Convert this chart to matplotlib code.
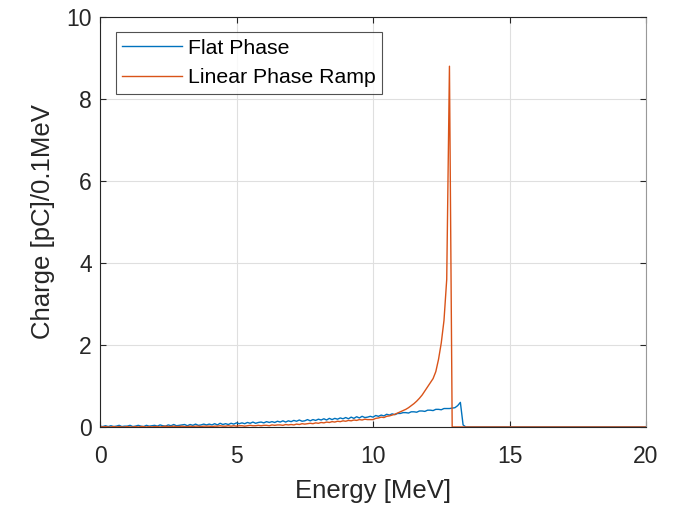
import numpy as np
import matplotlib
matplotlib.use("Agg")
import matplotlib.pyplot as plt

plt.rcParams['font.family'] = ['Liberation Sans', 'DejaVu Sans']

flat_phase = [
    0.02,0.01,0.03,0.01,0.03,0.01,0.02,0.04,0.01,0.02,
    0.02,0.04,0.01,0.02,0.04,0.02,0.01,0.04,0.02,0.03,
    0.04,0.02,0.05,0.03,0.02,0.05,0.03,0.06,0.03,0.04,
    0.05,0.06,0.03,0.06,0.04,0.07,0.04,0.05,0.07,0.05,
    0.07,0.05,0.08,0.05,0.09,0.06,0.08,0.06,0.09,0.07,
    0.10,0.08,0.10,0.08,0.11,0.09,0.12,0.09,0.11,0.12,
    0.10,0.13,0.11,0.13,0.11,0.14,0.12,0.15,0.12,0.15,
    0.13,0.16,0.14,0.17,0.14,0.15,0.18,0.15,0.18,0.16,
    0.19,0.17,0.20,0.17,0.21,0.18,0.21,0.19,0.22,0.20,
    0.23,0.20,0.24,0.21,0.25,0.22,0.26,0.23,0.24,0.26,
    0.24,0.28,0.26,0.29,0.27,0.31,0.29,0.32,0.30,0.33,
    0.33,0.35,0.35,0.34,0.37,0.37,0.36,0.39,0.39,0.38,
    0.41,0.41,0.40,0.43,0.43,0.42,0.45,0.45,0.45,0.46,
    0.47,0.52,0.60,0.05,0.00,
] + [0.0] * 66

linear_ramp = [
    0.01,0.00,0.01,0.00,0.00,0.01,0.00,0.01,0.00,0.00,
    0.01,0.00,0.00,0.01,0.00,0.01,0.01,0.00,0.01,0.00,
    0.01,0.01,0.00,0.01,0.02,0.01,0.01,0.02,0.01,0.01,
    0.02,0.01,0.01,0.02,0.01,0.02,0.02,0.01,0.02,0.02,
    0.02,0.01,0.02,0.02,0.03,0.02,0.02,0.03,0.02,0.03,
    0.02,0.03,0.03,0.02,0.03,0.04,0.03,0.03,0.04,0.03,
    0.04,0.04,0.03,0.05,0.04,0.05,0.05,0.04,0.06,0.05,
    0.06,0.05,0.07,0.06,0.08,0.07,0.08,0.09,0.08,0.10,
    0.09,0.11,0.10,0.12,0.11,0.13,0.12,0.14,0.13,0.15,
    0.14,0.16,0.15,0.17,0.16,0.18,0.17,0.19,0.18,0.18,
    0.18,0.21,0.22,0.24,0.23,0.26,0.27,0.29,0.31,0.34,
    0.37,0.40,0.43,0.47,0.52,0.57,0.63,0.70,0.78,0.88,
    0.98,1.08,1.18,1.35,1.65,2.05,2.60,3.60,8.80,
    0.00,
] + [0.0] * 71

energy = np.round(np.arange(len(flat_phase)) * 0.1, 1)

fig = plt.figure(figsize=(6.86, 5.05), dpi=100)
ax = fig.add_axes([0.1458, 0.1545, 0.7959, 0.8118])

ax.plot(energy, flat_phase, color='#0072BD', lw=1.0, label='Flat Phase')
ax.plot(energy, linear_ramp, color='#D95319', lw=1.0, label='Linear Phase Ramp')

ax.set_xlim(0, 20)
ax.set_ylim(0, 10)
ax.set_xticks([0, 5, 10, 15, 20])
ax.set_yticks([0, 2, 4, 6, 8, 10])
ax.grid(True, color='#DFDFDF', lw=0.8)
ax.set_axisbelow(True)
ax.tick_params(direction='in', length=4, width=0.8, colors='#262626',
               labelsize=16.5, top=True, right=True)
ax.tick_params(axis='x', pad=13)
ax.tick_params(axis='y', pad=6)
for s in ['left', 'bottom', 'top']:
    ax.spines[s].set_color('#262626')
    ax.spines[s].set_linewidth(0.8)
ax.spines['right'].set_color('#999999')
ax.spines['right'].set_linewidth(0.8)

ax.set_xlabel('Energy [MeV]', fontsize=18.5, color='#262626', labelpad=8)
ax.set_ylabel('Charge [pC]/0.1MeV', fontsize=18.5, color='#262626', labelpad=8)

leg = ax.legend(loc='upper left', bbox_to_anchor=(0.029, 0.963), fontsize=15.3,
                frameon=True, fancybox=False, borderpad=0.3, handlelength=2.8,
                handletextpad=0.3, labelspacing=0.5, borderaxespad=0)
leg.get_frame().set_edgecolor('#262626')
leg.get_frame().set_linewidth(0.8)

fig.savefig('out.png', dpi=100)
